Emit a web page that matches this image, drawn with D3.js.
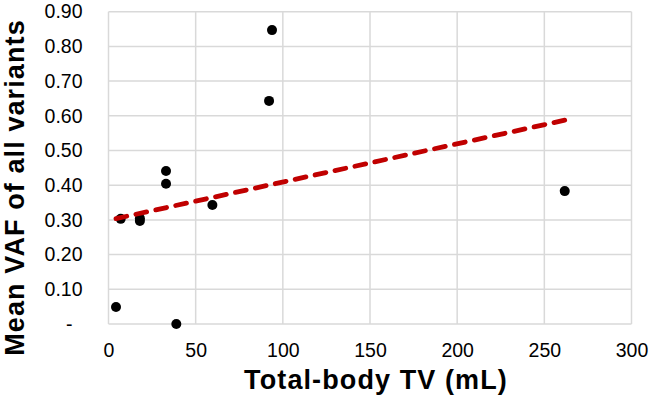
<!DOCTYPE html>
<html>
<head>
<meta charset="utf-8">
<script src="https://cdn.jsdelivr.net/npm/d3@7"></script>
<style>
  html, body { margin: 0; padding: 0; background: #fff; }
  svg { display: block; }
  text { font-family: "Liberation Sans", Arial, sans-serif; }
</style>
</head>
<body>
<svg id="chart" width="650" height="405"></svg>
<script>
// Data
const totalBodyTV = [4.3, 7, 18, 18, 33, 33, 38.9, 59.6, 92.1, 93.8, 261.7];
const meanVAF     = [0.049, 0.303, 0.297, 0.305, 0.441, 0.404, 0.0, 0.343, 0.643, 0.847, 0.383];
const xTickValues = [0, 50, 100, 150, 200, 250, 300];
const yTickValues = [0, 0.1, 0.2, 0.3, 0.4, 0.5, 0.6, 0.7, 0.8, 0.9];
const xTitle = "Total-body TV (mL)";
const yTitle = "Mean VAF of all variants";

const svg = d3.select("#chart");
const plotLeft = 108.5, plotRight = 631.5, plotTop = 11.7, plotBottom = 324;

const x = d3.scaleLinear().domain([0, 300]).range([plotLeft, plotRight]);
const y = d3.scaleLinear().domain([0, 0.9]).range([plotBottom, plotTop]);

const grid = "#d9d9d9";

// vertical gridlines
svg.append("g").selectAll("line").data(xTickValues).join("line")
  .attr("x1", d => x(d)).attr("x2", d => x(d))
  .attr("y1", plotTop).attr("y2", plotBottom)
  .attr("stroke", grid).attr("stroke-width", 1.5);

// horizontal gridlines
svg.append("g").selectAll("line").data(yTickValues).join("line")
  .attr("x1", plotLeft).attr("x2", plotRight)
  .attr("y1", d => y(d)).attr("y2", d => y(d))
  .attr("stroke", grid).attr("stroke-width", 1.5);

// axes via d3 (labels only)
const fmtY = v => v === 0 ? "-" : d3.format(".2f")(v);
const yAxis = svg.append("g")
  .attr("transform", `translate(${plotLeft},0)`)
  .call(d3.axisLeft(y).tickValues(yTickValues).tickFormat(fmtY).tickSize(0).tickPadding(26));
yAxis.select(".domain").remove();
yAxis.selectAll("text")
  .attr("font-size", 19.5).attr("fill", "#000")
  .attr("font-family", "'Liberation Sans', Arial, sans-serif")
  .attr("dx", d => d === 0 ? -10 : 0);

const xAxis = svg.append("g")
  .attr("transform", `translate(0,${plotBottom})`)
  .call(d3.axisBottom(x).tickValues(xTickValues).tickFormat(d3.format("d")).tickSize(0).tickPadding(19));
xAxis.select(".domain").remove();
xAxis.selectAll("text")
  .attr("font-size", 19.5).attr("fill", "#000")
  .attr("font-family", "'Liberation Sans', Arial, sans-serif");

// points
svg.append("g").selectAll("circle").data(totalBodyTV.map((v, i) => [v, meanVAF[i]])).join("circle")
  .attr("cx", d => x(d[0])).attr("cy", d => y(d[1])).attr("r", 5)
  .attr("fill", "#000");

// linear trendline (least squares on the data)
const n = totalBodyTV.length;
const mx = d3.mean(totalBodyTV), my = d3.mean(meanVAF);
let sxy = 0, sxx = 0;
for (let i = 0; i < n; i++) {
  sxy += (totalBodyTV[i] - mx) * (meanVAF[i] - my);
  sxx += (totalBodyTV[i] - mx) ** 2;
}
const slope = sxy / sxx, intercept = my - slope * mx;
const xs = d3.extent(totalBodyTV);
const line = d3.line().x(d => x(d)).y(d => y(intercept + slope * d));
const trend = svg.append("path").datum(xs)
  .attr("d", line)
  .attr("fill", "none").attr("stroke", "#c00000")
  .attr("stroke-width", 4.8).attr("stroke-linecap", "round");
// fit the dash pattern so the line starts and ends with a dash
const L = trend.node().getTotalLength();
const dash = 11;
const k = Math.max(1, Math.round((L - dash) / 20));
const period = (L - dash) / k;
trend.attr("stroke-dasharray", `${dash},${period - dash}`);

// titles
svg.append("text")
  .attr("x", 376).attr("y", 389)
  .attr("text-anchor", "middle")
  .attr("font-size", 27).attr("font-weight", "bold").attr("fill", "#000")
  .attr("letter-spacing", "1.1px")
  .text(xTitle);

svg.append("text")
  .attr("transform", `translate(24,${(18 + 357) / 2}) rotate(-90)`)
  .attr("text-anchor", "middle")
  .attr("font-size", 27).attr("font-weight", "bold").attr("fill", "#000")
  .attr("letter-spacing", "1.1px")
  .text(yTitle);
</script>
</body>
</html>
